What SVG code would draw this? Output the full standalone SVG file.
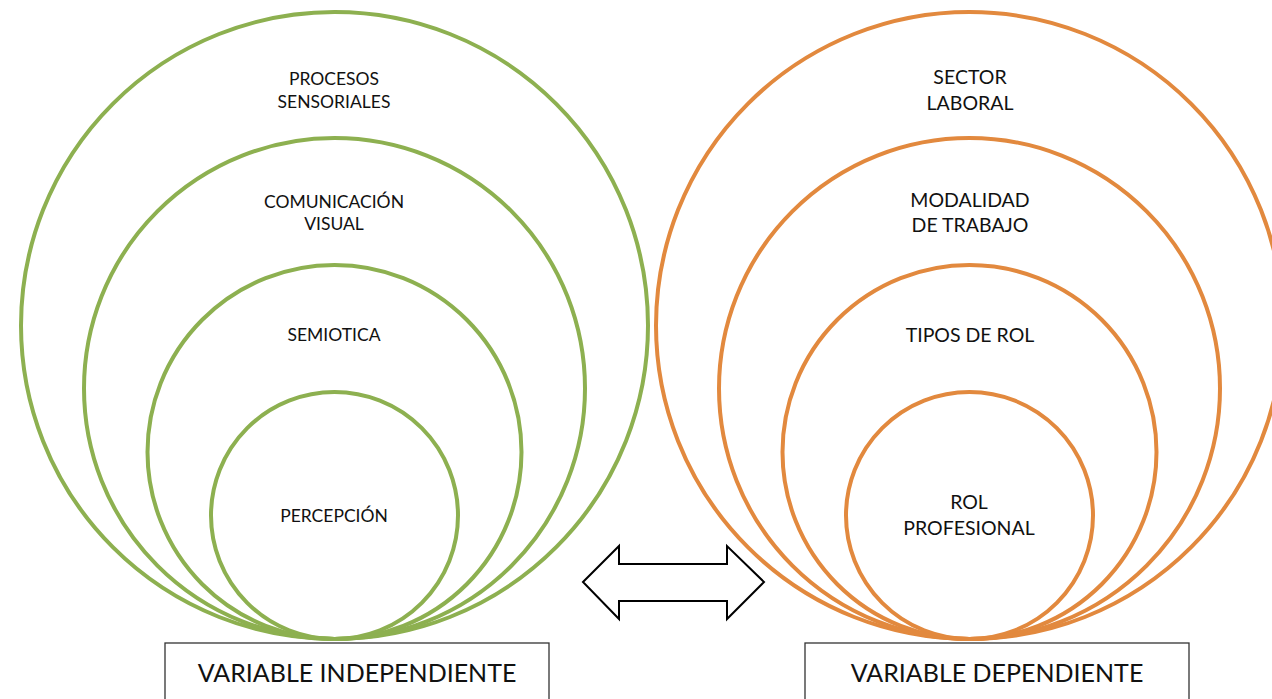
<svg xmlns="http://www.w3.org/2000/svg" width="1272" height="699" viewBox="0 0 1272 699">
<style>
.g{fill:none;stroke:#8DB050;stroke-width:4}
.o{fill:none;stroke:#E2893E;stroke-width:4}
.t{font-family:Lato,"Liberation Sans",sans-serif;fill:#111;text-anchor:middle}
.tg{font-size:17.5px}
.to{font-size:19.5px}
.tb{font-size:25px}
.box{fill:#fff;stroke:#333;stroke-width:1.3}
</style>
<rect width="1272" height="699" fill="#fff"/>
<g id="green-1"><circle class="g" cx="334.5" cy="325.5" r="313.5"/><text class="t tg" x="334" y="85">PROCESOS</text><text class="t tg" x="334" y="108">SENSORIALES</text></g>
<g id="green-2"><circle class="g" cx="334.5" cy="388.5" r="250.5"/><text class="t tg" x="334" y="208">COMUNICACIÓN</text><text class="t tg" x="334" y="230">VISUAL</text></g>
<g id="green-3"><circle class="g" cx="334.5" cy="452" r="187"/><text class="t tg" x="334" y="341">SEMIOTICA</text></g>
<g id="green-4"><circle class="g" cx="334.5" cy="515.5" r="123.5"/><text class="t tg" x="334" y="522">PERCEPCIÓN</text></g>
<g id="orange-1"><circle class="o" cx="969.5" cy="325.5" r="313.5"/><text class="t to" x="970" y="84">SECTOR</text><text class="t to" x="970" y="110">LABORAL</text></g>
<g id="orange-2"><circle class="o" cx="969.5" cy="388.5" r="250.5"/><text class="t to" x="970" y="207">MODALIDAD</text><text class="t to" x="970" y="232">DE TRABAJO</text></g>
<g id="orange-3"><circle class="o" cx="969.5" cy="452" r="187"/><text class="t to" x="970" y="342">TIPOS DE ROL</text></g>
<g id="orange-4"><circle class="o" cx="969.5" cy="515.5" r="123.5"/><text class="t to" x="969" y="509">ROL</text><text class="t to" x="969" y="535">PROFESIONAL</text></g>
<g id="box-independiente"><rect class="box" x="165" y="643" width="384" height="70"/><text class="t tb" x="357" y="682">VARIABLE INDEPENDIENTE</text></g>
<g id="box-dependiente"><rect class="box" x="805" y="643" width="384" height="70"/><text class="t tb" x="997" y="682">VARIABLE DEPENDIENTE</text></g>
<g id="connectors"><polygon points="583,582 619,546 619,564 727,564 727,546 764,582 727,619 727,601 619,601 619,619" fill="#fff" stroke="#000" stroke-width="2" stroke-linejoin="miter"/></g>
</svg>
